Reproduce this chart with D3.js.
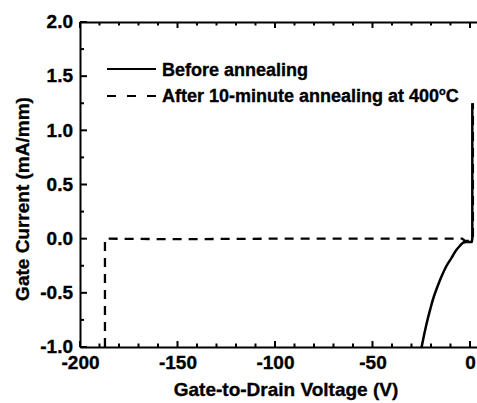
<!DOCTYPE html>
<html><head><meta charset="utf-8">
<script src="https://cdn.jsdelivr.net/npm/d3@7"></script>
<style>
body{margin:0;background:#fff;}
text{font-family:"Liberation Sans",Arial,Helvetica,sans-serif;font-weight:bold;fill:#000;stroke:#000;stroke-width:0.35px;}
</style></head>
<body>
<svg id="chart" width="477" height="403"></svg>
<script>
// Data
const beforeV = [-24.8, -23.5, -22.2, -20.5, -18.8, -16.5, -14.5, -12.0, -9.4, -7.0, -5.1, -3.4, -2.0, 0.9, 1.2, 1.2];
const beforeI = [-1.0, -0.885, -0.78, -0.66, -0.55, -0.435, -0.345, -0.25, -0.175, -0.105, -0.065, -0.035, -0.03, -0.03, 0.0, 1.25];
const afterV = [-187.2, -187.2, -150, -100, -50, -4.0, -2.5, 1.0, 1.5, 1.5];
const afterI = [-1.0, 0.0, -0.005, 0.0, 0.0, 0.0, -0.02, -0.02, 0.0, 1.25];
const xTicks = [-200, -150, -100, -50, 0];
const yTicks = [-1.0, -0.5, 0.0, 0.5, 1.0, 1.5, 2.0];
const seriesNames = ["Before annealing", "After 10-minute annealing at 400"];

const svg = d3.select("#chart");
const x = d3.scaleLinear().domain([-200, 3.6]).range([80, 477]);
const y = d3.scaleLinear().domain([-1, 2]).range([347, 22]);
const minorX = d3.range(-200, 4, 10).filter(v => v % 50 !== 0);
const minorY = d3.range(-1, 2.01, 0.25).filter(v => Math.abs(v * 2 - Math.round(v * 2)) > 1e-6);
const fmtX = d => String(d);
const fmtY = d => d.toFixed(1);

function styleAxis(g){ g.selectAll("path,line").attr("stroke","#000").attr("stroke-width",2); }
function styleText(g){ g.selectAll("text").style("font-size","19px").attr("fill","#000").attr("font-family",null); }

// axes (spines + labels)
svg.append("g").attr("transform","translate(0,347)")
  .call(d3.axisBottom(x).tickValues(xTicks).tickSize(0).tickPadding(9).tickFormat(fmtX))
  .call(styleAxis).call(styleText);
svg.append("g").attr("transform","translate(0,22)")
  .call(d3.axisTop(x).tickValues([]).tickSize(0))
  .call(styleAxis);
svg.append("g").attr("transform","translate(80,0)")
  .call(d3.axisLeft(y).tickValues(yTicks).tickSize(0).tickPadding(7).tickFormat(fmtY))
  .call(styleAxis).call(styleText)
  .call(g=>g.selectAll("text").attr("dy","0.30em"));

// inward tick marks
const tk = svg.append("g").attr("stroke","#000").attr("stroke-width",2);
function xTickMarks(vals, len){
  tk.selectAll(null).data(vals).enter().append("line")
    .attr("x1", d=>x(d)).attr("x2", d=>x(d)).attr("y1", 347).attr("y2", 347 - len);
  tk.selectAll(null).data(vals).enter().append("line")
    .attr("x1", d=>x(d)).attr("x2", d=>x(d)).attr("y1", 22).attr("y2", 22 + len);
}
xTickMarks(xTicks, 6);
xTickMarks(minorX, 3.5);
tk.selectAll(null).data(yTicks).enter().append("line")
  .attr("x1", 80).attr("x2", 87).attr("y1", d=>y(d)).attr("y2", d=>y(d));
tk.selectAll(null).data(minorY).enter().append("line")
  .attr("x1", 80).attr("x2", 84).attr("y1", d=>y(d)).attr("y2", d=>y(d));

// lines
const curveLine = d3.line().x(d=>x(d[0])).y(d=>y(d[1])).curve(d3.curveCatmullRom.alpha(0.5));
const line = d3.line().x(d=>x(d[0])).y(d=>y(d[1]));
const beforeData = beforeV.map((v,i)=>[v, beforeI[i]]);
const afterData = afterV.map((v,i)=>[v, afterI[i]]);
svg.append("path").datum(afterData).attr("d", line).attr("fill","none")
  .attr("stroke","#000").attr("stroke-width",2.3).attr("stroke-dasharray","9,7");
svg.append("path").datum(beforeData.slice(0, 12)).attr("d", curveLine).attr("fill","none")
  .attr("stroke","#000").attr("stroke-width",2.5).attr("stroke-linecap","round");
svg.append("path").datum(beforeData.slice(11)).attr("d", line).attr("fill","none")
  .attr("stroke","#000").attr("stroke-width",2.5).attr("stroke-linejoin","round");

// legend
const lg = svg.append("g");
lg.append("line").attr("x1",107).attr("x2",156).attr("y1",69).attr("y2",69).attr("stroke","#000").attr("stroke-width",2.2);
lg.append("line").attr("x1",107).attr("x2",158).attr("y1",96).attr("y2",96).attr("stroke","#000").attr("stroke-width",2.2).attr("stroke-dasharray","9,11");
lg.append("text").attr("x",162).attr("y",76).style("font-size","18px").text(seriesNames[0]);
const t2 = lg.append("text").attr("x",162).attr("y",101.5).style("font-size","18px");
t2.append("tspan").text(seriesNames[1]);
t2.append("tspan").attr("dy","-7").style("font-size","11px").text("o");
t2.append("tspan").attr("dy","7").text("C");

// axis titles
svg.append("text").attr("x",286).attr("y",396).attr("text-anchor","middle").style("font-size","19px").text("Gate-to-Drain Voltage (V)");
svg.append("text").attr("transform","translate(29,199) rotate(-90)").attr("text-anchor","middle").style("font-size","19px").text("Gate Current (mA/mm)");
</script>
</body></html>
